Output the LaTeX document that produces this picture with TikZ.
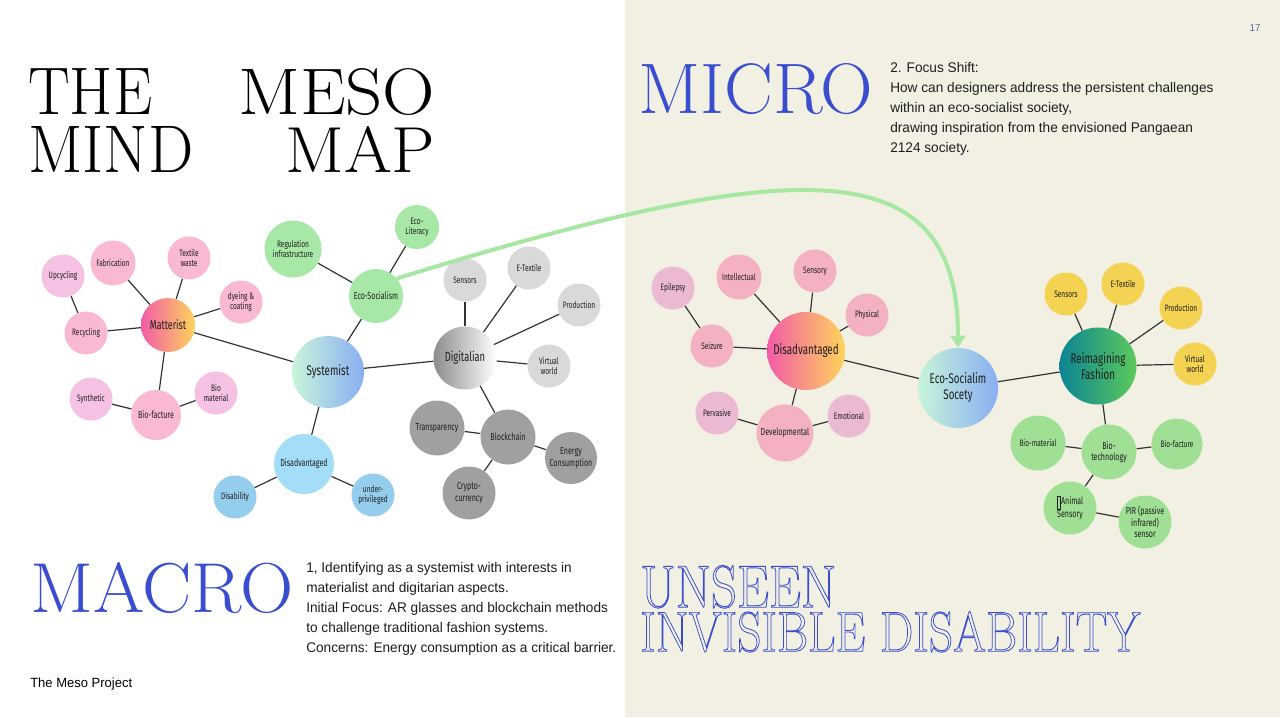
\documentclass[tikz,border=0pt]{standalone}
\usepackage{fontspec}
\usepackage{graphicx}
\usetikzlibrary{arrows.meta}
\newfontfamily\bodyfont[FakeStretch=0.975]{Liberation Sans}
\newfontfamily\nodefont[FakeStretch=0.7]{Fira Sans}
\newfontfamily\titlefont{Latin Modern Roman}
\newlength\px \setlength\px{0.75pt}
\newcommand\outl[1]{\special{pdf:literal direct 1 Tr 0.6 w}#1\special{pdf:literal direct 0 Tr}}
\definecolor{beige}{HTML}{F1F0E3}
\definecolor{txt}{HTML}{1E1E1E}
\definecolor{linec}{HTML}{333333}
\definecolor{pinkA}{HTML}{F9B9D3}
\definecolor{lilac}{HTML}{F5C2E3}
\definecolor{magA}{HTML}{F35BA8}
\definecolor{yelA}{HTML}{FDD45A}
\definecolor{greenA}{HTML}{A8E8A6}
\definecolor{mint}{HTML}{C8F5DA}
\definecolor{blueG}{HTML}{88AEF2}
\definecolor{blueA}{HTML}{A3DDF7}
\definecolor{blueB}{HTML}{94CEEC}
\definecolor{lgrey}{HTML}{D9D9D9}
\definecolor{dgrey}{HTML}{A0A0A0}
\definecolor{ggrey}{HTML}{8C8C8C}
\definecolor{pinkB}{HTML}{F3B1C1}
\definecolor{lilacB}{HTML}{ECB9D3}
\definecolor{teal}{HTML}{0B8494}
\definecolor{greenG}{HTML}{5DC95B}
\definecolor{yellow}{HTML}{F4D252}
\definecolor{greenB}{HTML}{A0E095}
\definecolor{arrowc}{HTML}{A6E8A2}
\definecolor{titleblue}{HTML}{3A4DCF}
\definecolor{pagec}{HTML}{5B63B0}
\tikzset{
  bub/.style={circle, inner sep=0pt, align=center, text=txt,
    font=\nodefont\fontsize{7}{7.8}\selectfont, minimum size=#1*0.75pt},
  midf/.style={font=\nodefont\fontsize{7.6}{8.6}\selectfont},
  bigf/.style={font=\nodefont\fontsize{10.5}{12}\selectfont},
  link/.style={draw=linec, line width=0.9pt},
  grad/.style 2 args={left color=#1, right color=#2},
  title/.style={anchor=north west, inner sep=0pt},
  body/.style={anchor=north west, inner sep=0pt, align=left, text=txt,
    font=\bodyfont\fontsize{10.5}{15}\selectfont},
}
\begin{document}
\begin{tikzpicture}[x=0.75pt, y=-0.75pt]
\useasboundingbox (0,0) rectangle (1280,717);
\fill[white] (0,0) rectangle (625,717);
\fill[beige] (625,0) rectangle (1280,717);

% titles
\node[title] (the) at (28,68) {\resizebox{124\px}{46\px}{\titlefont\fontsize{40}{40}\selectfont THE}};
\node[title] (meso) at (238,68) {\resizebox{197\px}{46\px}{\titlefont\fontsize{40}{40}\selectfont MESO}};
\node[title] (mind) at (28,126) {\resizebox{165\px}{46\px}{\titlefont\fontsize{40}{40}\selectfont MIND}};
\node[title] (map) at (285,126) {\resizebox{150\px}{46\px}{\titlefont\fontsize{40}{40}\selectfont MAP}};
\node[title, text=titleblue] (micro) at (638,63) {\resizebox{235\px}{50\px}{\titlefont\fontsize{40}{40}\selectfont MICRO}};
\node[title, text=titleblue] (macro) at (30,562) {\resizebox{263\px}{50\px}{\titlefont\fontsize{40}{40}\selectfont MACRO}};
\node[title, text=titleblue] (unseen) at (640,565) {\resizebox{196\px}{42\px}{\titlefont\fontsize{40}{40}\selectfont\outl{UNSEEN}}};
\node[title, text=titleblue] (invis) at (640,611) {\resizebox{500\px}{40\px}{\titlefont\fontsize{40}{40}\selectfont\outl{INVISIBLE DISABILITY}}};

% texts
\node[body] (focus) at (890,62) {2. Focus Shift:\\How can designers address the persistent challenges\\within an eco-socialist society,\\drawing inspiration from the envisioned Pangaean\\2124 society.};
\node[body] (ident) at (306,562) {1, Identifying as a systemist with interests in\\materialist and digitarian aspects.\\Initial Focus: AR glasses and blockchain methods\\to challenge traditional fashion systems.\\Concerns: Energy consumption as a critical barrier.};
\node[anchor=west, inner sep=0pt, text=black, font=\bodyfont\fontsize{10}{12}\selectfont] (proj) at (30,684) {The Meso Project};
\node[inner sep=0pt, text=pagec, font=\bodyfont\fontsize{7.5}{9}\selectfont] (page) at (1255,28) {17};

% ---------- left mind map ----------
\node[bub=43, fill=lilac] (upcyc) at (63,276) {Upcycling};
\node[bub=45, fill=pinkA] (fabr) at (113,263) {Fabrication};
\node[bub=43, fill=pinkA] (textile) at (189,258) {Textile\\waste};
\node[bub=43, fill=pinkA] (dyeing) at (241,302) {dyeing \&\\coating};
\node[bub=54, grad={magA}{yelA}, font=\nodefont\fontsize{9.5}{11}\selectfont] (matter) at (168,325) {Matterist};
\node[bub=43, fill=pinkA] (recyc) at (86,333) {Recycling};
\node[bub=43, fill=lilac] (synth) at (91,399) {Synthetic};
\node[bub=50, fill=pinkA, midf] (biofac) at (156,415) {Bio-facture};
\node[bub=43, fill=lilac] (biomat) at (216,393) {Bio\\material};

\node[bub=57, fill=greenA] (reg) at (293,249) {Regulation\\infrastructure};
\node[bub=44, fill=greenA] (ecolit) at (417,227) {Eco-\\Literacy};
\node[bub=54, fill=greenA, midf] (ecosoc) at (376,296) {Eco-Socialism};
\node[bub=72, grad={mint}{blueG}, bigf] (syst) at (328,372) {Systemist};
\node[bub=60, fill=blueA, midf] (disL) at (304,464) {Disadvantaged};
\node[bub=43, fill=blueB] (disab) at (235,497) {Disability};
\node[bub=43, fill=blueB] (underp) at (373,495) {under-\\privileged};

\node[bub=43, fill=lgrey] (sensL) at (465,280) {Sensors};
\node[bub=43, fill=lgrey] (etexL) at (529,268) {E-Textile};
\node[bub=43, fill=lgrey] (prodL) at (579,305) {Production};
\node[bub=63, grad={ggrey}{white}, font=\nodefont\fontsize{10}{12}\selectfont] (digi) at (465,358) {Digitalian};
\node[bub=43, fill=lgrey] (virtL) at (549,366) {Virtual\\world};
\node[bub=55, fill=dgrey, midf] (transp) at (437,428) {Transparency};
\node[bub=55, fill=dgrey, midf] (block) at (508,437) {Blockchain};
\node[bub=52, fill=dgrey, midf] (energy) at (571,458) {Energy\\Consumption};
\node[bub=53, fill=dgrey, midf] (crypto) at (469,493) {Crypto-\\currency};

\draw[link] (upcyc) -- (recyc);
\draw[link] (recyc) -- (matter);
\draw[link] (fabr) -- (matter);
\draw[link] (textile) -- (matter);
\draw[link] (dyeing) -- (matter);
\draw[link] (matter) -- (syst);
\draw[link] (matter) -- (biofac);
\draw[link] (synth) -- (biofac);
\draw[link] (biofac) -- (biomat);
\draw[link] (reg) -- (ecosoc);
\draw[link] (ecolit) -- (ecosoc);
\draw[link] (ecosoc) -- (syst);
\draw[link] (syst) -- (digi);
\draw[link] (syst) -- (disL);
\draw[link] (disL) -- (disab);
\draw[link] (disL) -- (underp);
\draw[link] (digi) -- (sensL);
\draw[link] (digi) -- (etexL);
\draw[link] (digi) -- (prodL);
\draw[link] (digi) -- (virtL);
\draw[link] (digi) -- (block);
\draw[link] (block) -- (transp);
\draw[link] (block) -- (energy);
\draw[link] (block) -- (crypto);

% ---------- right mind map ----------
\node[bub=43, fill=lilacB] (epil) at (673,288) {Epilepsy};
\node[bub=45, fill=pinkB] (intel) at (739,277) {Intellectual};
\node[bub=43, fill=pinkB] (senso) at (815,271) {Sensory};
\node[bub=43, fill=pinkB] (phys) at (867,315) {Physical};
\node[bub=43, fill=pinkB] (seiz) at (712,346) {Seizure};
\node[bub=78, grad={magA}{yelA}, bigf] (disR) at (806,351) {Disadvantaged};
\node[bub=43, fill=lilacB] (perv) at (717,413) {Pervasive};
\node[bub=57, fill=pinkB, midf] (devel) at (785,433) {Developmental};
\node[bub=43, fill=lilacB] (emot) at (849,416) {Emotional};

\node[bub=80, grad={mint}{blueG}, bigf] (ecoss) at (958,388) {Eco-Socialim\\Socety};
\node[bub=77, grad={teal}{greenG}, bigf] (reim) at (1098,366) {Reimagining\\Fashion};
\node[bub=43, fill=yellow] (sensR) at (1066,294) {Sensors};
\node[bub=43, fill=yellow] (etexR) at (1123,284) {E-Textile};
\node[bub=43, fill=yellow] (prodR) at (1181,308) {Production};
\node[bub=43, fill=yellow] (virtR) at (1195,364) {Virtual\\world};
\node[bub=55, fill=greenB, midf] (biotech) at (1109,452) {Bio-\\technology};
\node[bub=55, fill=greenB] (biomR) at (1038,443) {Bio-material};
\node[bub=51, fill=greenB] (biofR) at (1177,444) {Bio-facture};
\node[bub=53, fill=greenB, midf] (animal) at (1070,508) {{\setlength\fboxsep{0pt}\setlength\fboxrule{0.6pt}\raisebox{-3pt}{\fbox{\rule{0pt}{9pt}\hspace{2pt}}}}Animal\\Sensory};
\node[bub=53, fill=greenB, midf] (pir) at (1145,522) {PIR (passive\\infrared)\\sensor};

\draw[link] (epil) -- (seiz);
\draw[link] (seiz) -- (disR);
\draw[link] (intel) -- (disR);
\draw[link] (senso) -- (disR);
\draw[link] (phys) -- (disR);
\draw[link] (disR) -- (ecoss);
\draw[link] (disR) -- (devel);
\draw[link] (perv) -- (devel);
\draw[link] (devel) -- (emot);
\draw[link] (ecoss) -- (reim);
\draw[link] (reim) -- (sensR);
\draw[link] (reim) -- (etexR);
\draw[link] (reim) -- (prodR);
\draw[link] (reim) -- (virtR);
\draw[link] (reim) -- (biotech);
\draw[link] (biotech) -- (biomR);
\draw[link] (biotech) -- (biofR);
\draw[link] (biotech) -- (animal);
\draw[link] (animal) -- (pir);

% green arrow
\draw[arrowc, line width=3pt, -{Triangle[length=9pt,width=11pt]}]
  (ecosoc.40) .. controls (799,154) and (958,150) .. (ecoss.north);
\end{tikzpicture}
\end{document}
